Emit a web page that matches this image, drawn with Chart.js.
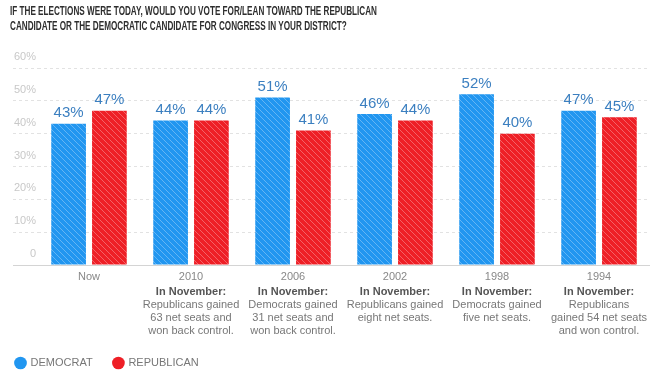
<!DOCTYPE html>
<html>
<head>
<meta charset="utf-8">
<script src="https://cdn.jsdelivr.net/npm/chart.js@4/dist/chart.umd.min.js"></script>
<style>
  body { margin: 0; background: #fff; }
  #wrap { width: 650px; height: 374px; }
</style>
</head>
<body>
<div id="wrap"><canvas id="pollChart" width="650" height="374"></canvas></div>
<script>
const years = ["Now", "2010", "2006", "2002", "1998", "1994"];
const democrat = [43, 44, 51, 46, 52, 47];
const republican = [47, 44, 41, 44, 40, 45];
const noteHeads = ["", "In November:", "In November:", "In November:", "In November:", "In November:"];
const notes = [
  "",
  ["Republicans gained", "63 net seats and", "won back control."],
  ["Democrats gained", "31 net seats and", "won back control."],
  ["Republicans gained", "eight net seats."],
  ["Democrats gained", "five net seats."],
  ["Republicans", "gained 54 net seats", "and won control."]
];
const titleLines = [
  "IF THE ELECTIONS WERE TODAY, WOULD YOU VOTE FOR/LEAN TOWARD THE REPUBLICAN",
  "CANDIDATE OR THE DEMOCRATIC CANDIDATE FOR CONGRESS IN YOUR DISTRICT?"
];

const BLUE = "#2196f0";
const RED = "#ee1f26";
const FONT = "'Liberation Sans', Arial, sans-serif";

// diagonal white hatching used on the bars
function stripes(color) {
  const c = document.createElement("canvas");
  c.width = 6;
  c.height = 6;
  const g = c.getContext("2d");
  g.fillStyle = color;
  g.fillRect(0, 0, 6, 6);
  g.strokeStyle = "rgba(255,255,255,0.3)";
  g.lineWidth = 1;
  g.beginPath();
  g.moveTo(0, 0); g.lineTo(6, 6);
  g.moveTo(-3, 3); g.lineTo(3, 9);
  g.moveTo(3, -3); g.lineTo(9, 3);
  g.stroke();
  return g.createPattern(c, "repeat");
}

const isZero = ctx => ctx.tick && ctx.tick.value === 0;

// the original title uses a condensed face, so squeeze it horizontally
const narrowTitle = {
  id: "narrowTitle",
  afterDraw(chart) {
    const ctx = chart.ctx;
    ctx.save();
    ctx.font = "bold 12px " + FONT;
    ctx.fillStyle = "#2e2e2e";
    ctx.textBaseline = "middle";
    const squeeze = 367 / ctx.measureText(titleLines[0]).width;
    ctx.translate(10, 0);
    ctx.scale(squeeze, 1);
    ctx.fillText(titleLines[0], 0, 12);
    ctx.fillText(titleLines[1], 0, 27);
    ctx.restore();
  }
};

const valueLabels = {
  id: "valueLabels",
  afterDatasetsDraw(chart) {
    const ctx = chart.ctx;
    ctx.save();
    ctx.font = "15px " + FONT;
    ctx.fillStyle = "#3b7fc0";
    ctx.textAlign = "center";
    ctx.textBaseline = "bottom";
    chart.data.datasets.forEach((ds, i) => {
      chart.getDatasetMeta(i).data.forEach((bar, j) => {
        ctx.fillText(ds.data[j] + "%", bar.x, bar.y - 3);
      });
    });
    ctx.restore();
  }
};

new Chart(document.getElementById("pollChart"), {
  type: "bar",
  data: {
    labels: years,
    datasets: [
      { label: "DEMOCRAT", data: democrat, backgroundColor: stripes(BLUE), categoryPercentage: 0.8, barPercentage: 0.85 },
      { label: "REPUBLICAN", data: republican, backgroundColor: stripes(RED), categoryPercentage: 0.8, barPercentage: 0.85 }
    ]
  },
  options: {
    responsive: false,
    animation: false,
    layout: { padding: { left: 10, right: 0, top: 68, bottom: 0 } },
    scales: {
      x: {
        weight: 0,
        grid: { display: false, drawTicks: false },
        border: { display: false },
        ticks: { color: "#888", font: { family: FONT, size: 11 }, padding: 5, maxRotation: 0, autoSkip: false },
        afterFit: s => { s.height = 22; }
      },
      x2: {
        type: "category",
        position: "bottom",
        weight: 1,
        offset: true,
        labels: noteHeads,
        grid: { display: false, drawTicks: false },
        border: { display: false },
        ticks: { color: "#555", font: { family: FONT, size: 11, weight: "bold" }, padding: -2, maxRotation: 0, autoSkip: false },
        afterFit: s => { s.height = 10; }
      },
      x3: {
        type: "category",
        position: "bottom",
        weight: 2,
        offset: true,
        labels: notes,
        grid: { display: false, drawTicks: false },
        border: { display: false },
        ticks: { color: "#777", font: { family: FONT, size: 11 }, padding: 1, maxRotation: 0, autoSkip: false },
        afterFit: s => { s.height = 54.4; }
      },
      y: {
        min: 0,
        max: 60,
        ticks: {
          stepSize: 10,
          color: "#c8c8c8",
          font: { family: FONT, size: 11 },
          padding: -23,
          labelOffset: -11,
          callback: v => v === 0 ? "0" : v + "%"
        },
        grid: {
          color: ctx => isZero(ctx) ? "#d4d4d4" : "#e2e2e2",
          tickColor: ctx => isZero(ctx) ? "#d4d4d4" : "#e2e2e2",
          tickLength: 25,
          tickBorderDash: ctx => isZero(ctx) ? [] : [3, 3]
        },
        border: { display: false, dash: ctx => isZero(ctx) ? [] : [3, 3] },
        afterFit: s => { s.width = 28; }
      }
    },
    plugins: {
      title: { display: false },
      legend: {
        position: "bottom",
        align: "start",
        maxHeight: 22.5,
        labels: {
          usePointStyle: true,
          pointStyle: "circle",
          boxHeight: 9,
          boxWidth: 9,
          padding: 6,
          color: "#777",
          font: { family: FONT, size: 11 },
          generateLabels: () => [
            { text: "DEMOCRAT     ", fillStyle: BLUE, strokeStyle: BLUE, fontColor: "#777", lineWidth: 0, pointStyle: "circle", datasetIndex: 0 },
            { text: "REPUBLICAN", fillStyle: RED, strokeStyle: RED, fontColor: "#777", lineWidth: 0, pointStyle: "circle", datasetIndex: 1 }
          ]
        }
      },
      tooltip: { enabled: false }
    }
  },
  plugins: [valueLabels, narrowTitle]
});
</script>
</body>
</html>
